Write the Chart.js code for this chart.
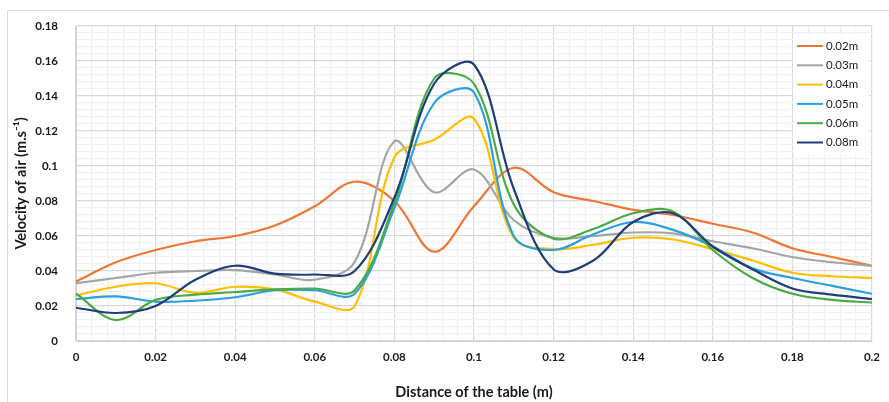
<!DOCTYPE html>
<html>
<head>
<meta charset="utf-8">
<script src="https://cdn.jsdelivr.net/npm/chart.js@4.4.1/dist/chart.umd.min.js"></script>
<style>
  html, body { margin: 0; padding: 0; background: #fff; }
  #wrap { position: relative; width: 889px; height: 402px; }
  #frame { position: absolute; left: 7px; top: 10px; right: 0; bottom: 0; border-left: 1px solid #d9d9d9; border-top: 1px solid #d9d9d9; pointer-events: none; }
</style>
</head>
<body>
<div id="wrap">
  <canvas id="velChart"></canvas>
  <div id="frame"></div>
</div>
<script>
// distance along the table (m)
const distance = [0, 0.01, 0.02, 0.03, 0.04, 0.05, 0.06, 0.07, 0.08, 0.09, 0.1,
                  0.11, 0.12, 0.13, 0.14, 0.15, 0.16, 0.17, 0.18, 0.19, 0.2];

// air velocity (m/s) for each height
const vel002 = [0.034, 0.045, 0.052, 0.057, 0.060, 0.066, 0.077, 0.091, 0.080, 0.051, 0.077,
                0.099, 0.085, 0.080, 0.075, 0.072, 0.067, 0.062, 0.053, 0.048, 0.043];
const vel003 = [0.033, 0.036, 0.039, 0.040, 0.0405, 0.038, 0.035, 0.045, 0.114, 0.085, 0.098,
                0.069, 0.059, 0.060, 0.062, 0.0615, 0.057, 0.053, 0.048, 0.045, 0.043];
const vel004 = [0.026, 0.031, 0.033, 0.0275, 0.031, 0.0295, 0.0225, 0.020, 0.105, 0.115, 0.127,
                0.059, 0.0525, 0.055, 0.059, 0.058, 0.0525, 0.046, 0.039, 0.037, 0.036];
const vel005 = [0.024, 0.0255, 0.0225, 0.023, 0.025, 0.029, 0.029, 0.027, 0.076, 0.136, 0.142,
                0.060, 0.052, 0.061, 0.068, 0.0635, 0.054, 0.0415, 0.036, 0.0315, 0.027];
const vel006 = [0.027, 0.012, 0.0235, 0.0265, 0.028, 0.0295, 0.030, 0.029, 0.079, 0.150, 0.147,
                0.078, 0.0585, 0.064, 0.073, 0.074, 0.052, 0.036, 0.027, 0.0235, 0.022];
const vel008 = [0.019, 0.016, 0.020, 0.035, 0.043, 0.0385, 0.038, 0.040, 0.082, 0.147, 0.158,
                0.087, 0.041, 0.046, 0.068, 0.073, 0.054, 0.041, 0.030, 0.0265, 0.024];

const seriesNames = ['0.02m', '0.03m', '0.04m', '0.05m', '0.06m', '0.08m'];
const seriesColors = ['#f07634', '#a5a5a5', '#ffbf00', '#2b9fe0', '#4aab45', '#1f3d7a'];
const seriesValues = [vel002, vel003, vel004, vel005, vel006, vel008];

const isMajor = v => Math.abs(v / 0.02 - Math.round(v / 0.02)) < 1e-6;
const fmt = v => String(Number(v.toFixed(3)));

const datasets = seriesValues.map((vals, i) => ({
  label: seriesNames[i],
  data: distance.map((x, j) => ({ x: x, y: vals[j] })),
  borderColor: seriesColors[i],
  backgroundColor: seriesColors[i],
  borderWidth: 2.2,
  pointRadius: 0,
  tension: 0.35,
  order: 6 - i
}));

// legend drawn inside the plot, top right
const insideLegend = {
  id: 'insideLegend',
  afterDatasetsDraw(chart) {
    const { ctx, chartArea } = chart;
    const x0 = chartArea.right - 75;
    let y = chartArea.top + 20;
    ctx.save();
    ctx.fillStyle = '#fff';
    ctx.fillRect(x0 - 4, chartArea.top + 9, 76, 118);
    ctx.font = '11.5px Lato';
    ctx.textBaseline = 'middle';
    seriesNames.forEach((name, i) => {
      ctx.strokeStyle = seriesColors[i];
      ctx.lineWidth = 2;
      ctx.beginPath();
      ctx.moveTo(x0, y);
      ctx.lineTo(x0 + 26, y);
      ctx.stroke();
      ctx.fillStyle = '#1a1a1a';
      ctx.fillText(name, x0 + 29, y);
      y += 19.3;
    });
    ctx.restore();
  }
};

const gridColor = c => isMajor(c.tick.value) ? '#d9d9d9' : '#f1f1f1';

new Chart(document.getElementById('velChart').getContext('2d'), {
  type: 'line',
  data: { datasets: datasets },
  options: {
    responsive: true,
    maintainAspectRatio: false,
    animation: false,
    layout: { padding: { left: 0, right: 17, top: 26, bottom: 0 } },
    plugins: { legend: { display: false }, tooltip: { enabled: false } },
    scales: {
      x: {
        type: 'linear',
        min: 0, max: 0.2,
        afterFit: s => { s.height = 61; },
        grid: { color: gridColor, lineWidth: 1.2, drawTicks: false },
        border: { color: '#d0d0d0' },
        ticks: {
          stepSize: 0.004, autoSkip: false, maxRotation: 0, maxTicksLimit: 100, padding: 9,
          color: '#1a1a1a', font: { family: 'Lato', size: 11.5, weight: 'bold' },
          callback: v => isMajor(v) ? fmt(v) : ''
        },
        title: {
          display: true, text: 'Distance of the table (m)', color: '#1a1a1a',
          font: { family: 'Lato', size: 14.5, weight: 'bold' }, padding: { top: 0, bottom: 1 }
        }
      },
      y: {
        min: 0, max: 0.18,
        afterFit: s => { s.width = 76; },
        grid: { color: gridColor, lineWidth: 1.2, drawTicks: false },
        border: { color: '#d0d0d0' },
        ticks: {
          stepSize: 0.004, autoSkip: false, maxTicksLimit: 100, padding: 18,
          color: '#1a1a1a', font: { family: 'Lato', size: 11.5, weight: 'bold' },
          callback: v => isMajor(v) ? fmt(v) : ''
        },
        title: {
          display: true, text: 'Velocity of air (m.s⁻¹)', color: '#1a1a1a',
          font: { family: 'Lato', size: 14.5, weight: 'bold' }, padding: { top: 13, bottom: 0 }
        }
      }
    }
  },
  plugins: [insideLegend]
});
</script>
</body>
</html>
